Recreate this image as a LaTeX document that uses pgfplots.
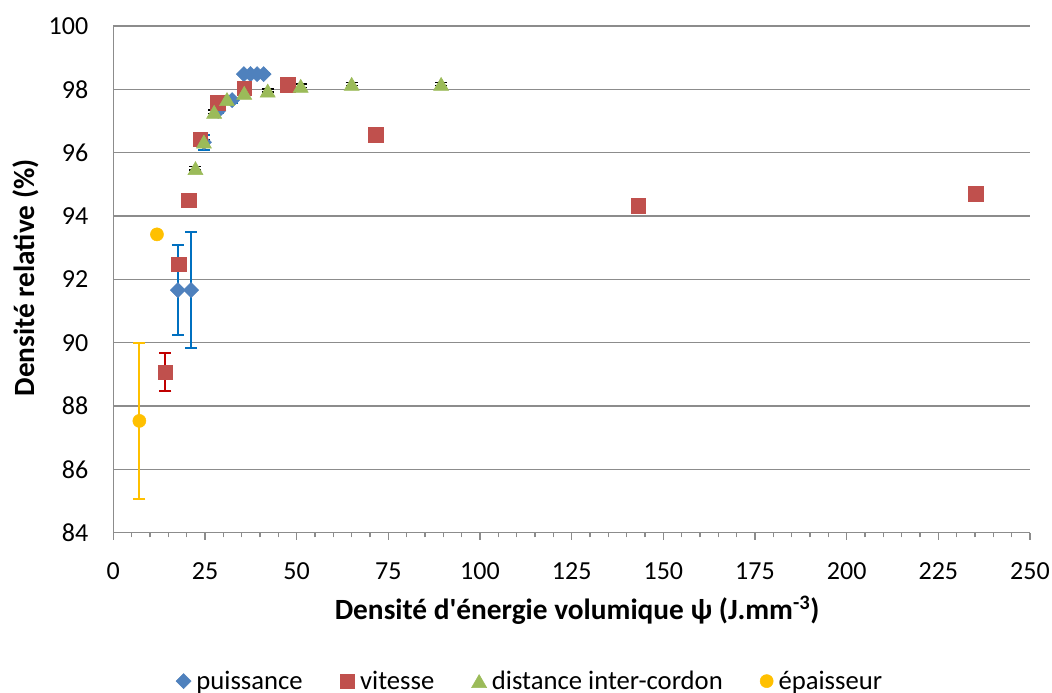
\documentclass[border=0pt]{standalone}
\usepackage{fontspec}
\setmainfont{Carlito}[Ligatures=TeXOff]
\usepackage{pgfplots}
\usepackage{pgfplotstable}
\pgfplotsset{compat=1.18}
\definecolor{axisgray}{RGB}{140,140,140}
\definecolor{sblue}{HTML}{4F81BD}
\definecolor{sred}{HTML}{C0504D}
\definecolor{sgreen}{HTML}{9BBB59}
\definecolor{syellow}{HTML}{FFC000}
\definecolor{eblue}{HTML}{0070C0}
\definecolor{ered}{HTML}{C00000}

\pgfplotstableread{
x y e
17.6 91.66 1.42
21.2 91.66 1.82
24.7 96.33 0.24
28.6 97.32 0.08
32.4 97.66 0.08
35.6 98.48 0.04
37.4 98.48 0.04
39.2 98.48 0.04
41.0 98.48 0.04
}\puissance

\pgfplotstableread{
x y e
14.2 89.07 0.59
17.8 92.48 0
20.5 94.50 0
23.7 96.42 0
28.5 97.58 0
35.7 98.03 0
47.6 98.14 0
71.6 96.57 0
143.2 94.33 0
235.2 94.70 0
}\vitesse

\pgfplotstableread{
x y e
22.4 95.51 0.05
24.7 96.35 0.05
27.5 97.29 0.05
31.0 97.69 0.05
35.7 97.89 0.05
42.1 97.96 0.05
51.1 98.11 0.05
65.0 98.17 0.05
89.4 98.17 0.05
}\distance

\pgfplotstableread{
x y e
7.1 87.53 2.47
11.9 93.42 0
}\epaisseur

\newcommand{\fs}{\fontsize{19.5}{23}\selectfont}
\newcommand{\fl}{\fontsize{20}{24}\selectfont}
\newcommand{\fb}{\fontsize{22}{26}\selectfont\bfseries}

\begin{document}
\begin{tikzpicture}
\path[use as bounding box] (-85pt,-120.2pt) rectangle (704pt,399.5pt);
\begin{axis}[
  at={(0,0)}, anchor=south west,
  scale only axis, width=687.5pt, height=380pt,
  xmin=0, xmax=250, ymin=84, ymax=100,
  xtick={0,25,...,250}, minor x tick num=4,
  ytick={84,86,...,100},
  axis x line=bottom, axis y line=left,
  axis line style={draw=axisgray, line width=1pt, -},
  ymajorgrids, grid style={draw=axisgray, line width=1pt},
  tick style={draw=axisgray, line width=1pt},
  every y tick/.style={draw=none},
  major tick length=5.3pt, minor tick length=3.5pt,
  tick align=outside,
  /pgf/number format/assume math mode=true,
  tick label style={font=\fs},
  xticklabel style={yshift=-13.5pt},
  yticklabel style={xshift=-10pt},
  xlabel={Densité d'énergie volumique ψ (J.mm\textsuperscript{-3})},
  ylabel={Densité relative (\%)},
  xlabel style={at={(axis description cs:0.506,-0.153)}, anchor=center, font=\fb},
  ylabel style={at={(axis description cs:-0.096,0.503)}, anchor=center, font=\fb},
  legend style={at={(axis description cs:0.455,-0.293)}, anchor=center, draw=none,
    font=\fl, /tikz/every even column/.append style={column sep=26pt},
    /tikz/every odd column/.append style={column sep=2pt}},
  legend columns=-1,
  legend cell align=left,
]
% puissance
\addplot[draw=none, mark=none, forget plot,
  error bars/.cd, y dir=both, y explicit,
  error bar style={draw=eblue, line width=1.5pt},
  error mark options={rotate=90, draw=eblue, line width=1.5pt, mark size=4.5pt}]
  table[x=x, y=y, y error=e] {\puissance};
\addplot[only marks, mark=square*, mark size=4pt,
  mark options={rotate=45, fill=sblue, draw=sblue}]
  table[x=x, y=y] {\puissance};
\addlegendentry{puissance}
% vitesse
\addplot[draw=none, mark=none, forget plot,
  error bars/.cd, y dir=both, y explicit,
  error bar style={draw=ered, line width=1.5pt},
  error mark options={rotate=90, draw=ered, line width=1.5pt, mark size=4.5pt}]
  table[x=x, y=y, y error=e] {\vitesse};
\addplot[only marks, mark=square*, mark size=5.5pt,
  mark options={fill=sred, draw=sred}]
  table[x=x, y=y] {\vitesse};
\addlegendentry{vitesse}
% distance
\addplot[draw=none, mark=none, forget plot,
  error bars/.cd, y dir=both, y explicit,
  error bar style={draw=black, line width=1.2pt},
  error mark options={rotate=90, draw=black, line width=1.2pt, mark size=4.5pt}]
  table[x=x, y=y, y error=e] {\distance};
\addplot[only marks, mark=triangle*, mark size=6.5pt,
  mark options={fill=sgreen, draw=sgreen, yshift=-1.6pt}]
  table[x=x, y=y] {\distance};
\addlegendentry{distance inter-cordon}
% epaisseur
\addplot[draw=none, mark=none, forget plot,
  error bars/.cd, y dir=both, y explicit,
  error bar style={draw=syellow, line width=1.5pt},
  error mark options={rotate=90, draw=syellow, line width=1.5pt, mark size=4.5pt}]
  table[x=x, y=y, y error=e] {\epaisseur};
\addplot[only marks, mark=*, mark size=4.9pt,
  mark options={fill=syellow, draw=syellow}]
  table[x=x, y=y] {\epaisseur};
\addlegendentry{épaisseur}
\end{axis}
\end{tikzpicture}
\end{document}
